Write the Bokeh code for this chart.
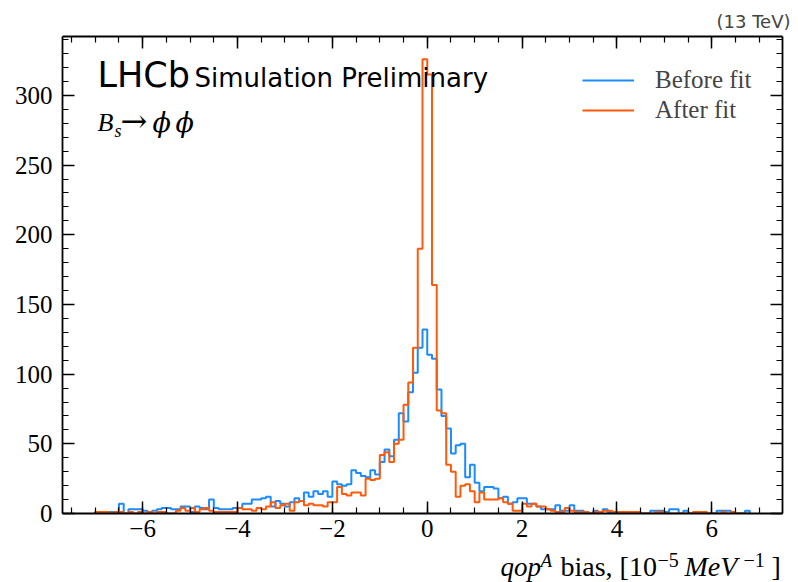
import numpy as np
from bokeh.plotting import figure
from bokeh.layouts import column
from bokeh.models import (Range1d, FixedTicker, LinearAxis, Label, Legend,
                          LegendItem, CustomJSTickFormatter)
from bokeh.embed import file_html
from bokeh.resources import INLINE

# ---------------- data ----------------
bin_lo = -7.0
bin_w = 0.1

before_fit = [1, 1, 1, 1, 0, 7, 0, 3, 3, 3, 2, 1, 2, 3, 4, 4, 3, 3, 5, 5,
              1, 5, 4, 3, 10, 4, 3, 3, 3, 4, 4, 7,
              7, 10, 10, 11, 12, 5, 9, 7, 5, 8, 11, 9, 15, 12, 16, 14, 16, 12,
              23, 21, 20, 21, 31, 29, 27, 26, 31, 28, 37, 46, 41, 53, 72, 66,
              87, 101, 119, 132,
              114, 111, 89, 70, 61, 43, 49, 50, 26, 35, 22, 16, 19, 19, 18, 11,
              12, 7, 8, 11, 11, 7, 7, 5, 3, 3, 3, 6, 2, 2, 6, 2, 2, 1,
              0, 2, 1, 3, 1, 0, 1, 0, 0, 0, 0, 0, 0, 2, 2, 2, 1, 3, 3, 0,
              2, 0, 0, 0, 0, 0, 0, 2, 2, 2, 0, 0, 0, 2]

after_fit = [1, 1, 1, 0, 1, 1, 0, 1, 0, 1, 0, 1, 0, 1, 1, 0, 0, 2, 4, 2,
             4, 1, 3, 4, 2, 1, 1, 1, 1, 1, 4, 3,
             3, 2, 4, 3, 5, 8, 4, 6, 7, 2, 8, 9, 6, 7, 6, 6, 5, 8, 8, 19,
             14, 13, 15, 15, 13, 25, 24, 25, 42, 44, 37, 50, 53, 78, 94, 119,
             190, 326,
             315, 164, 74, 72, 35, 30, 12, 20, 21, 16, 8, 15, 10, 10, 10, 11,
             8, 7, 2, 2, 7, 5, 7, 5, 5, 3, 2, 1, 1, 4, 2, 1, 1, 1,
             0, 1, 1, 2, 2, 1, 1, 1, 1, 1, 1, 0, 0, 0, 1, 1, 0, 0, 0, 0,
             0, 0, 1, 1, 1, 0, 0, 0, 1, 0, 1, 0, 0, 0]

series_labels = ["Before fit", "After fit"]
series_colors = ["#1a8cff", "#ff5a0a"]

x_ticks = [-6, -4, -2, 0, 2, 4, 6]
y_ticks = [0, 50, 100, 150, 200, 250, 300]

# ---------------- helpers ----------------
edges = bin_lo + bin_w * np.arange(len(before_fit) + 1)


def step_xy(vals):
    xs = np.repeat(edges, 2)
    ys = np.concatenate([[0.0], np.repeat(np.asarray(vals, float), 2), [0.0]])
    return xs, ys


x_lo, x_hi = edges[0], edges[-1]
pad = 0.05 * (x_hi - x_lo)
y_top = 1.05 * max(max(before_fit), max(after_fit))

FL, FT, FR, FB = 62, 36, 14, 36       # borders of the main figure
FW, FH = 720, 477                     # frame size
W = FL + FW + FR
LAB_H = 33                            # strip that carries the x-axis title

p = figure(width=W, height=FT + FH + FB, output_backend="svg",
           toolbar_location=None,
           x_range=Range1d(x_lo - pad, x_hi + pad), y_range=Range1d(0, y_top),
           min_border_left=FL, min_border_right=FR, min_border_top=FT,
           min_border_bottom=FB)
p.grid.visible = False
p.outline_line_color = None
p.background_fill_color = "white"
p.border_fill_color = "white"

renderers = []
for vals, col in zip([before_fit, after_fit], series_colors):
    xs, ys = step_xy(vals)
    r = p.line(xs, ys, line_color=col, line_width=2)
    renderers.append(r)

x_ticker = FixedTicker(ticks=x_ticks,
                       minor_ticks=list(np.arange(-7.5, 7.51, 0.5)))
y_ticker = FixedTicker(ticks=y_ticks, minor_ticks=list(range(0, 341, 10)))

minus_fmt = CustomJSTickFormatter(
    code="return tick < 0 ? '\\u2212' + Math.abs(tick) : tick.toString();")
blank_fmt = CustomJSTickFormatter(code="return '';")


def style_axis(ax, ticker, fmt):
    ax.ticker = ticker
    ax.formatter = fmt
    ax.axis_line_color = "black"
    ax.axis_line_width = 1.8
    ax.major_tick_in = 12
    ax.major_tick_out = 0
    ax.minor_tick_in = 6
    ax.minor_tick_out = 0
    ax.major_tick_line_width = 1.5
    ax.minor_tick_line_width = 1.2
    ax.major_tick_line_color = "black"
    ax.minor_tick_line_color = "black"
    ax.major_label_text_font = "Liberation Serif"
    ax.major_label_text_font_size = "25px"
    ax.major_label_text_color = "black"


style_axis(p.xaxis[0], x_ticker, minus_fmt)
style_axis(p.yaxis[0], y_ticker, minus_fmt)
p.xaxis[0].major_label_standoff = 6
p.yaxis[0].major_label_standoff = 10

top_ax = LinearAxis()
style_axis(top_ax, x_ticker, blank_fmt)
p.add_layout(top_ax, "above")
right_ax = LinearAxis()
style_axis(right_ax, y_ticker, blank_fmt)
p.add_layout(right_ax, "right")

# energy tag as the (right-aligned) title
p.title.text = "(13 TeV)"
p.title.align = "right"
p.title.text_font = "DejaVu Sans"
p.title.text_font_size = "18px"
p.title.text_font_style = "normal"
p.title.standoff = 9
p.title.offset = -8

# ---------------- legend ----------------
legend = Legend(items=[LegendItem(label=lab, renderers=[r])
                       for lab, r in zip(series_labels, renderers)],
                location=(582 - FL, (FT + FH) - 124), border_line_color=None,
                background_fill_alpha=0, label_text_font="Liberation Serif",
                label_text_font_size="25px", glyph_width=52, glyph_height=26,
                label_height=26, label_standoff=21, spacing=2, padding=0,
                margin=0)
p.add_layout(legend)

# ---------------- texts ----------------
SHIFT = 0.37


def add_text(fig, sx, sy, text, font, size, style="normal"):
    fig.add_layout(Label(x=sx, y=sy + SHIFT * size, x_units="screen",
                         y_units="screen", text=text, text_font=font,
                         text_font_size=f"{size}px", text_font_style=style,
                         text_align="left", text_baseline="alphabetic",
                         text_color="black"))


def in_frame(px, py, text, font, size, style="normal"):
    add_text(p, px - FL, (FT + FH) - py, text, font, size, style)


in_frame(97, 87, "LHCb", "DejaVu Sans", 35)
in_frame(194, 87, "Simulation Preliminary", "DejaVu Sans", 26)
in_frame(97, 132, "B", "Liberation Serif", 26, style="italic")
in_frame(114, 137, "s", "Liberation Serif", 18, style="italic")
in_frame(120, 132, "\u2192", "DejaVu Serif", 32)
in_frame(152, 132, "\u03d5", "DejaVu Serif", 27, style="italic")
in_frame(175, 132, "\u03d5", "DejaVu Serif", 27, style="italic")

# ---------------- x-axis title strip (frame aligned with the main plot) ----
lab_fig = figure(width=W, height=LAB_H, output_backend="svg",
                 toolbar_location=None, x_axis_type=None, y_axis_type=None,
                 x_range=Range1d(0, FW), y_range=Range1d(0, LAB_H),
                 min_border=0)
lab_fig.grid.visible = False
lab_fig.outline_line_color = None
lab_fig.background_fill_color = "white"
lab_fig.border_fill_color = "white"

STRIP_BOTTOM = FT + FH + FB + LAB_H


def in_strip(px, py, text, size, style="normal"):
    add_text(lab_fig, px - FL, STRIP_BOTTOM - py, text, "Liberation Serif",
             size, style)


BL, SUP = 576, 567
in_strip(500, BL, "qop", 27, style="italic")
in_strip(540, SUP, "A", 19, style="italic")
in_strip(560, BL, "bias, [10", 28)
in_strip(657, SUP, "\u22125", 20)
in_strip(684, BL, "MeV", 28, style="italic")
in_strip(743, SUP, "\u22121", 20)
in_strip(771, BL, "]", 28)

layout = column(p, lab_fig, spacing=0)
open("out.html", "w").write(file_html(layout, INLINE))
